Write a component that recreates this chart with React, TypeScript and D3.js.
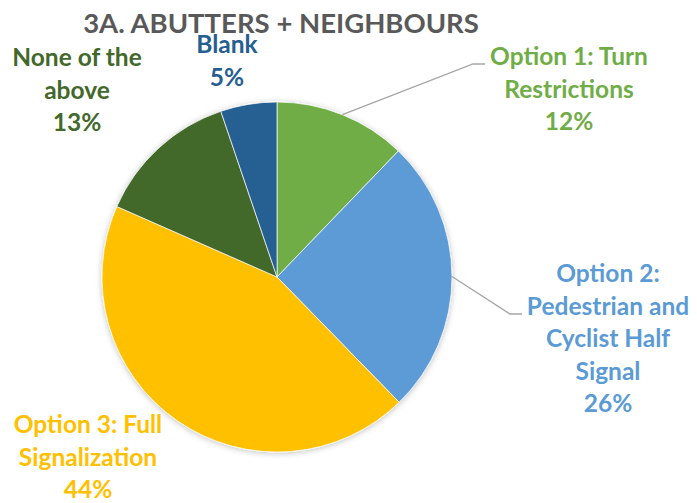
import React, { useMemo } from 'react';
import * as d3 from 'd3';

const WIDTH = 697;
const HEIGHT = 503;
const CX = 277;
const CY = 277;
const RADIUS = 175;

const TITLE = '3A. ABUTTERS + NEIGHBOURS';
const CATEGORIES = [
  'Option 1: Turn Restrictions',
  'Option 2: Pedestrian and Cyclist Half Signal',
  'Option 3: Full Signalization',
  'None of the above',
  'Blank',
];
// share of responses, percent
const VALUES = [12.2, 25.5, 43.9, 13.2, 5.2];
const LABEL_LINES = [
  ['Option 1: Turn', 'Restrictions'],
  ['Option 2:', 'Pedestrian and', 'Cyclist Half', 'Signal'],
  ['Option 3: Full', 'Signalization'],
  ['None of the', 'above'],
  ['Blank'],
];
const COLORS = ['#70AD47', '#5B9BD5', '#FFC000', '#43682B', '#255E91'];

// label layout: center x, first baseline y, and optional leader elbow
const LABEL_POS = [
  { x: 569, y: 65, leader: [473, 64, 485] },
  { x: 608, y: 282, leader: [510, 314, 522] },
  { x: 88, y: 433, leader: null },
  { x: 77, y: 66, leader: null },
  { x: 227, y: 53, leader: null },
];
const LINE_H = 32.5;
const FONT = 'Lato, "Open Sans", sans-serif';

export default function App() {
  const arcs = useMemo(() => {
    const pie = d3.pie<number>().sort(null).value((d) => d);
    return pie(VALUES);
  }, []);
  const arc = d3.arc<d3.PieArcDatum<number>>().innerRadius(0).outerRadius(RADIUS);

  return (
    <svg
      width={WIDTH}
      height={HEIGHT}
      style={{ position: 'absolute', left: 0, top: 0, background: '#fff' }}
      fontFamily={FONT}
      fontWeight="bold"
    >
      <defs>
        <filter id="shadow" x="-20%" y="-20%" width="140%" height="140%">
          <feGaussianBlur in="SourceAlpha" stdDeviation="3" />
          <feOffset dx="0" dy="1" result="b" />
          <feComponentTransfer>
            <feFuncA type="linear" slope="0.25" />
          </feComponentTransfer>
          <feMerge>
            <feMergeNode />
            <feMergeNode in="SourceGraphic" />
          </feMerge>
        </filter>
      </defs>
      <text x={281} y={33} textAnchor="middle" fontSize={27.5} fill="#595959">
        {TITLE}
      </text>
      <g transform={`translate(${CX},${CY})`} filter="url(#shadow)">
        {arcs.map((a, i) => (
          <path key={CATEGORIES[i]} d={arc(a) ?? ''} fill={COLORS[i]} stroke="#fff" strokeWidth={0.7}>
            <title>{CATEGORIES[i]}</title>
          </path>
        ))}
      </g>
      {arcs.map((a, i) => {
        const p = LABEL_POS[i];
        if (!p.leader) return null;
        const mid = (a.startAngle + a.endAngle) / 2;
        const sx = CX + Math.sin(mid) * RADIUS;
        const sy = CY - Math.cos(mid) * RADIUS;
        const [ex, ey, hx] = p.leader;
        return (
          <polyline
            key={`leader-${i}`}
            points={`${sx},${sy} ${ex},${ey} ${hx},${ey}`}
            fill="none"
            stroke="#A6A6A6"
            strokeWidth={1.3}
          />
        );
      })}
      {arcs.map((a, i) => {
        const p = LABEL_POS[i];
        const lines = [...LABEL_LINES[i], `${Math.round(VALUES[i])}%`];
        return (
          <text key={`label-${i}`} textAnchor="middle" fontSize={24.5} fill={COLORS[i]}>
            {lines.map((l, j) => (
              <tspan key={j} x={p.x} y={p.y + j * LINE_H}>
                {l}
              </tspan>
            ))}
          </text>
        );
      })}
    </svg>
  );
}
